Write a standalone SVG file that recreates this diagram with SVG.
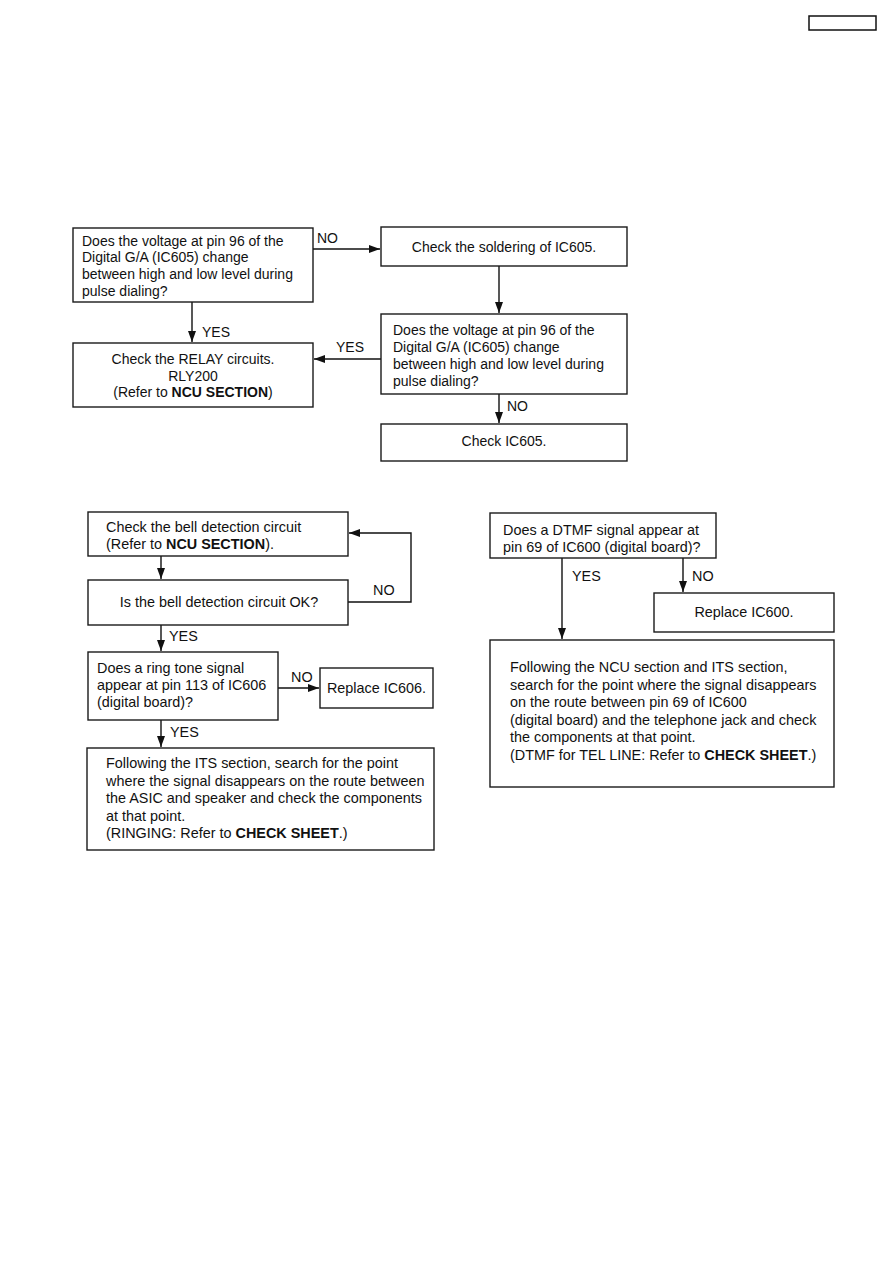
<svg xmlns="http://www.w3.org/2000/svg" width="893" height="1263" viewBox="0 0 893 1263">
<defs>
<marker id="ah" markerUnits="userSpaceOnUse" markerWidth="12" markerHeight="8" refX="11" refY="4" orient="auto">
<path d="M0,0 L11,4 L0,8 Z" fill="#111"/>
</marker>
<style>
.box{fill:#fff;stroke:#1a1a1a;stroke-width:1.4}
.t{font-family:"Liberation Sans",Arial,sans-serif;font-size:14px;fill:#111}
.s{font-size:14.4px}
.c{text-anchor:middle}
.b{font-weight:bold}
.arr{fill:none;stroke:#111;stroke-width:1.4;marker-end:url(#ah)}
</style>
</defs>
<rect width="893" height="1263" fill="#fff"/>
<g id="header"><rect x="809" y="16" width="67" height="14" fill="#fff" stroke="#111" stroke-width="1.5"/></g>

<g id="connectors">
<line class="arr" x1="313" y1="249" x2="380" y2="249"/>
<line class="arr" x1="499" y1="266" x2="499" y2="313"/>
<line class="arr" x1="499" y1="394" x2="499" y2="423"/>
<line class="arr" x1="381" y1="359" x2="314" y2="359"/>
<line class="arr" x1="192" y1="302" x2="192" y2="342"/>
<line class="arr" x1="161" y1="556" x2="161" y2="579"/>
<polyline class="arr" points="348,602 411,602 411,533 349,533"/>
<line class="arr" x1="161" y1="625" x2="161" y2="651"/>
<line class="arr" x1="278" y1="688" x2="319" y2="688"/>
<line class="arr" x1="161" y1="720" x2="161" y2="747"/>
<line class="arr" x1="562" y1="558" x2="562" y2="639"/>
<line class="arr" x1="683" y1="558" x2="683" y2="592"/>
<text class="t" x="317" y="243">NO</text>
<text class="t" x="507" y="411">NO</text>
<text class="t" x="336" y="352">YES</text>
<text class="t" x="202" y="337">YES</text>
<text class="t s" x="373" y="595">NO</text>
<text class="t s" x="169" y="641">YES</text>
<text class="t s" x="291" y="682">NO</text>
<text class="t s" x="170" y="737">YES</text>
<text class="t s" x="572" y="581">YES</text>
<text class="t s" x="692" y="581">NO</text>
</g>

<g id="nodeA">
<rect class="box" x="73" y="228" width="240" height="74"/>
<text class="t" x="82" y="245.5">Does the voltage at pin 96 of the</text>
<text class="t" x="82" y="262.2">Digital G/A (IC605) change</text>
<text class="t" x="82" y="279">between high and low level during</text>
<text class="t" x="82" y="295.7">pulse dialing?</text>
</g>
<g id="nodeB">
<rect class="box" x="381" y="227" width="246" height="39"/>
<text class="t c" x="504" y="252">Check the soldering of IC605.</text>
</g>
<g id="nodeC">
<rect class="box" x="381" y="314" width="246" height="80"/>
<text class="t" x="393" y="334.5">Does the voltage at pin 96 of the</text>
<text class="t" x="393" y="351.5">Digital G/A (IC605) change</text>
<text class="t" x="393" y="368.5">between high and low level during</text>
<text class="t" x="393" y="385.5">pulse dialing?</text>
</g>
<g id="nodeD">
<rect class="box" x="381" y="424" width="246" height="37"/>
<text class="t c" x="504" y="446">Check IC605.</text>
</g>
<g id="nodeE">
<rect class="box" x="73" y="343" width="240" height="64"/>
<text class="t c" x="193" y="364">Check the RELAY circuits.</text>
<text class="t c" x="193" y="380.5">RLY200</text>
<text class="t c" x="193" y="397">(Refer to <tspan class="b">NCU SECTION</tspan>)</text>
</g>

<g id="nodeF">
<rect class="box" x="88" y="512" width="260" height="44"/>
<text class="t s" x="106" y="532">Check the bell detection circuit</text>
<text class="t s" x="106" y="548.5">(Refer to <tspan class="b">NCU SECTION</tspan>).</text>
</g>
<g id="nodeG">
<rect class="box" x="88" y="580" width="260" height="45"/>
<text class="t s c" x="219" y="607">Is the bell detection circuit OK?</text>
</g>
<g id="nodeH">
<rect class="box" x="88" y="652" width="190" height="68"/>
<text class="t s" x="97" y="673">Does a ring tone signal</text>
<text class="t s" x="97" y="690">appear at pin 113 of IC606</text>
<text class="t s" x="97" y="707">(digital board)?</text>
</g>
<g id="nodeI">
<rect class="box" x="320" y="668" width="113" height="40"/>
<text class="t s c" x="376.5" y="693">Replace IC606.</text>
</g>
<g id="nodeJ">
<rect class="box" x="87" y="748" width="347" height="102"/>
<text class="t s" x="106" y="768">Following the ITS section, search for the point</text>
<text class="t s" x="106" y="785.5">where the signal disappears on the route between</text>
<text class="t s" x="106" y="803">the ASIC and speaker and check the components</text>
<text class="t s" x="106" y="820.5">at that point.</text>
<text class="t s" x="106" y="838">(RINGING: Refer to <tspan class="b">CHECK SHEET</tspan>.)</text>
</g>

<g id="nodeK">
<rect class="box" x="490" y="513" width="226" height="45"/>
<text class="t s" x="503" y="535">Does a DTMF signal appear at</text>
<text class="t s" x="503" y="551.5">pin 69 of IC600 (digital board)?</text>
</g>
<g id="nodeL">
<rect class="box" x="654" y="593" width="180" height="39"/>
<text class="t s c" x="744" y="617">Replace IC600.</text>
</g>
<g id="nodeM">
<rect class="box" x="490" y="640" width="344" height="147"/>
<text class="t s" x="510" y="672">Following the NCU section and ITS section,</text>
<text class="t s" x="510" y="689.5">search for the point where the signal disappears</text>
<text class="t s" x="510" y="707">on the route between pin 69 of IC600</text>
<text class="t s" x="510" y="724.5">(digital board) and the telephone jack and check</text>
<text class="t s" x="510" y="742">the components at that point.</text>
<text class="t s" x="510" y="759.5">(DTMF for TEL LINE: Refer to <tspan class="b">CHECK SHEET</tspan>.)</text>
</g>
</svg>
